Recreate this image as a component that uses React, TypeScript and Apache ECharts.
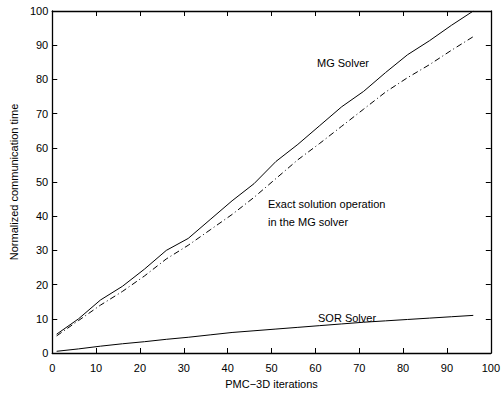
import React, { useEffect, useRef } from "react";
import * as echarts from "echarts";

const iterations = [1, 6, 11, 16, 21, 26, 31, 36, 41, 46, 51, 56, 61, 66, 71, 76, 81, 86, 91, 96];
const mgSolver = [5.5, 10, 15.5, 19.5, 24.5, 30, 33.5, 39, 44.5, 49.5, 56, 61, 66.5, 72, 76.5, 82, 87.2, 91.3, 95.8, 100];
const exactSolution = [5, 9.5, 14, 18, 22.5, 27.5, 31.5, 36, 40.5, 45.5, 51, 56.5, 61.3, 66.3, 71.3, 76.3, 80.5, 84.3, 88.5, 92.5];
const sorSolver = [0.5, 1.2, 2, 2.7, 3.3, 4, 4.6, 5.3, 6, 6.5, 7, 7.5, 8, 8.5, 9, 9.4, 9.8, 10.2, 10.6, 11];

const FONT = "Liberation Sans, Arial, sans-serif";

export default function App() {
  const ref = useRef<HTMLDivElement>(null);
  useEffect(() => {
    if (!ref.current) return;
    const chart = echarts.init(ref.current, null, { renderer: "svg" });
    const pair = (ys: number[]) => iterations.map((x, i) => [x, ys[i]]);
    const axisCommon = {
      min: 0,
      max: 100,
      interval: 10,
      splitLine: { show: false },
      axisLine: { show: true, onZero: false, lineStyle: { color: "#000", width: 1.3 } },
      axisTick: { show: true, inside: true, length: 5, lineStyle: { color: "#000" } },
    };
    chart.setOption({
      animation: false,
      backgroundColor: "#fff",
      grid: { left: 50, right: 6, top: 11, bottom: 32 },
      xAxis: [
        {
          ...axisCommon,
          type: "value",
          position: "bottom",
          name: "PMC\u22123D iterations",
          nameLocation: "middle",
          nameGap: 25,
          nameTextStyle: { color: "#000", fontSize: 11, fontFamily: FONT },
          axisLabel: { color: "#000", fontSize: 11, fontFamily: FONT, margin: 9 },
        },
        {
          ...axisCommon,
          type: "value",
          position: "top",
          axisLabel: { show: false },
        },
      ],
      yAxis: [
        {
          ...axisCommon,
          type: "value",
          position: "left",
          name: "Normalized communication time",
          nameLocation: "middle",
          nameGap: 33,
          nameTextStyle: { color: "#000", fontSize: 11, fontFamily: FONT },
          axisLabel: { color: "#000", fontSize: 11, fontFamily: FONT, margin: 4 },
        },
        {
          ...axisCommon,
          type: "value",
          position: "right",
          axisLabel: { show: false },
        },
      ],
      series: [
        {
          name: "MG Solver",
          type: "line",
          data: pair(mgSolver),
          symbol: "none",
          lineStyle: { color: "#000", width: 1 },
        },
        {
          name: "Exact solution operation in the MG solver",
          type: "line",
          data: pair(exactSolution),
          symbol: "none",
          lineStyle: { color: "#000", width: 1, type: [6, 3, 1, 3] },
        },
        {
          name: "SOR Solver",
          type: "line",
          data: pair(sorSolver),
          symbol: "none",
          lineStyle: { color: "#000", width: 1 },
        },
      ],
      graphic: [
        {
          type: "text",
          left: 317,
          top: 57,
          style: { text: "MG Solver", fill: "#000", fontSize: 11, fontFamily: FONT },
        },
        {
          type: "text",
          left: 268,
          top: 198,
          style: { text: "Exact solution operation", fill: "#000", fontSize: 11, fontFamily: FONT },
        },
        {
          type: "text",
          left: 268,
          top: 216,
          style: { text: "in the MG solver", fill: "#000", fontSize: 11, fontFamily: FONT },
        },
        {
          type: "text",
          left: 318,
          top: 312,
          style: { text: "SOR Solver", fill: "#000", fontSize: 11, fontFamily: FONT },
        },
      ],
    });
    return () => chart.dispose();
  }, []);
  return (
    <div
      ref={ref}
      style={{ width: 503, height: 394, position: "absolute", left: 0, top: 0 }}
    />
  );
}
